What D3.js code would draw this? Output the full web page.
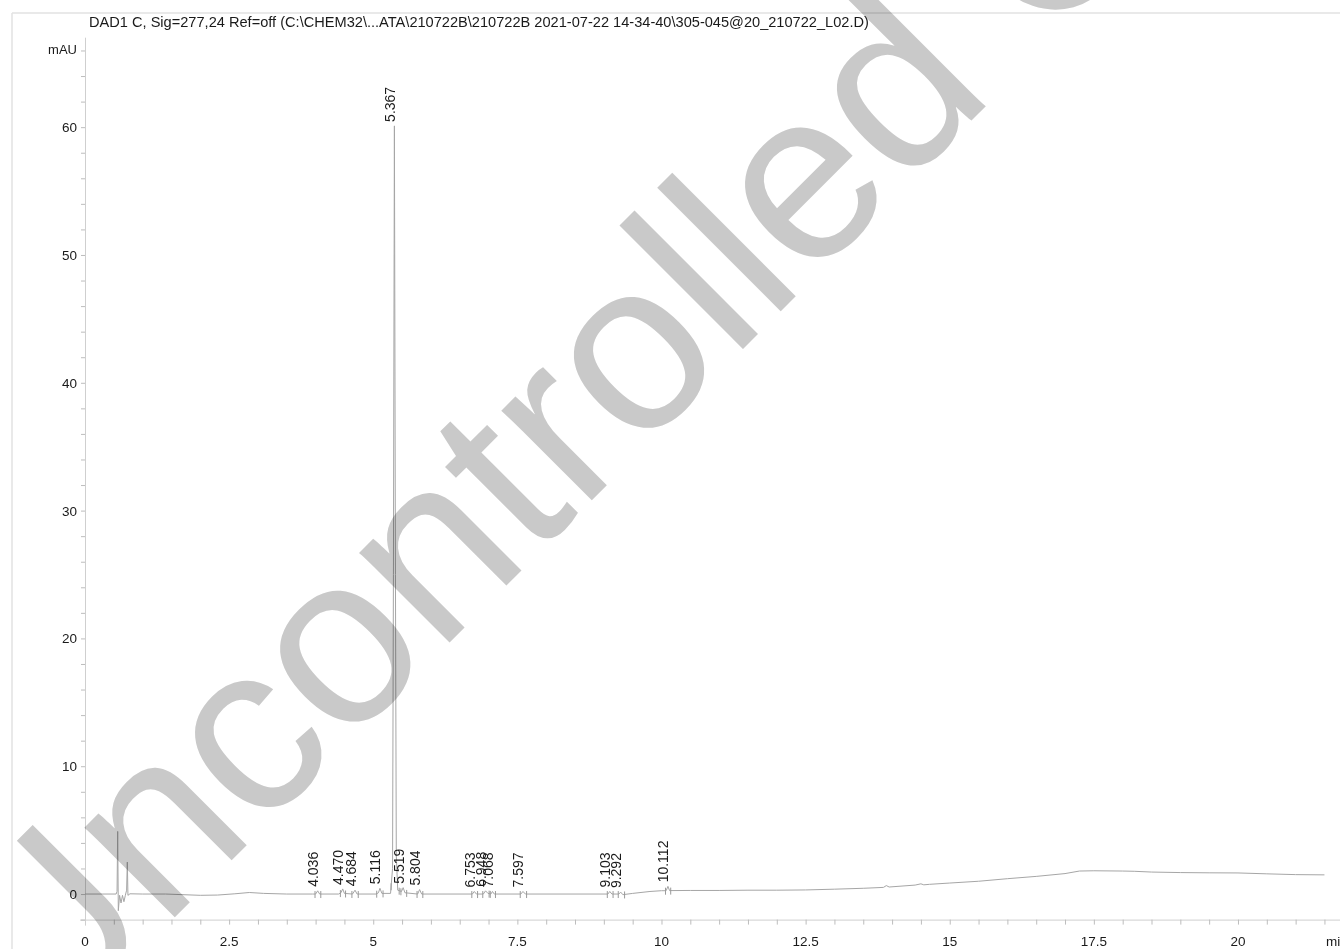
<!DOCTYPE html>
<html>
<head>
<meta charset="utf-8">
<script src="https://cdn.jsdelivr.net/npm/d3@7/dist/d3.min.js"></script>
<style>
  html, body { margin: 0; padding: 0; background: #fff; }
  svg { display: block; }
  text { font-family: "Liberation Sans", Arial, Helvetica, sans-serif; }
</style>
</head>
<body>
<svg id="chart" width="1340" height="949"></svg>
<script>
// Signal header
const titleText = "DAD1 C, Sig=277,24 Ref=off (C:\\CHEM32\\...ATA\\210722B\\210722B 2021-07-22 14-34-40\\305-045@20_210722_L02.D)";
const yUnit = "mAU";
const xUnit = "min";
const watermarkText = "Uncontrolled Copy";

// Axis ticks
const xMajorTicks = [0, 2.5, 5, 7.5, 10, 12.5, 15, 17.5, 20];
const xTickLabels = ["0", "2.5", "5", "7.5", "10", "12.5", "15", "17.5", "20"];
const yMajorTicks = [0, 10, 20, 30, 40, 50, 60];
const yTickLabels = ["0", "10", "20", "30", "40", "50", "60"];

// Chromatogram trace: retention time (min) and absorbance (mAU)
const traceTime = [
  0.00, 0.30, 0.54, 0.556, 0.567, 0.578, 0.600, 0.625, 0.650, 0.675, 0.700, 0.722, 0.734, 0.745, 0.78,
  1.00, 1.40, 1.70, 2.00, 2.30, 2.60, 2.85, 3.10, 3.50, 3.95,
  4.00, 4.036, 4.07, 4.40, 4.44, 4.470, 4.50, 4.64, 4.684, 4.72,
  5.05, 5.09, 5.116, 5.15, 5.30, 5.335, 5.350, 5.367, 5.385, 5.400, 5.425,
  5.49, 5.519, 5.55, 5.77, 5.804, 5.84,
  6.72, 6.753, 6.79, 6.91, 6.948, 6.99, 7.04, 7.068, 7.10,
  7.56, 7.597, 7.64, 9.07, 9.103, 9.14, 9.26, 9.292, 9.33,
  9.50, 9.80, 10.00, 10.08, 10.112, 10.14, 10.50, 11.00, 11.50, 12.00, 12.50,
  13.00, 13.50, 13.85, 13.90, 13.95, 14.40, 14.50, 14.55, 14.65,
  15.00, 15.50, 16.00, 16.50, 17.00, 17.25, 17.50, 18.00, 18.20, 18.50,
  19.00, 19.50, 20.00, 20.50, 21.00, 21.50, 22.50
];
const traceSignal = [
  0.00, 0.00, 0.00, 0.20, 4.90, -1.30, -0.10, -0.70, -0.10, -0.60, -0.10, 0.30, 2.50, -0.10, 0.02,
  0.00, 0.00, -0.05, -0.10, -0.08, 0.02, 0.12, 0.05, 0.00, 0.00,
  0.00, 0.25, 0.00, 0.00, 0.10, 0.40, 0.05, 0.00, 0.30, 0.00,
  0.00, 0.10, 0.45, 0.05, 0.05, 2.00, 25.0, 60.1, 25.0, 3.00, 0.30,
  0.20, 0.50, 0.10, 0.00, 0.35, 0.00,
  0.00, 0.20, 0.00, 0.00, 0.25, 0.05, 0.00, 0.20, 0.00,
  0.00, 0.20, 0.00, 0.00, 0.20, 0.00, 0.00, 0.15, -0.05,
  0.05, 0.20, 0.26, 0.26, 0.60, 0.27, 0.28, 0.28, 0.30, 0.30, 0.32,
  0.38, 0.45, 0.52, 0.66, 0.55, 0.70, 0.80, 0.72, 0.76,
  0.86, 1.00, 1.20, 1.38, 1.60, 1.80, 1.82, 1.80, 1.78, 1.72,
  1.68, 1.66, 1.65, 1.58, 1.52, 1.50, 1.48
];

// Integrated peaks: apex time labels and integration limits (min)
const peakLabels = ["4.036", "4.470", "4.684", "5.116", "5.367", "5.519", "5.804",
                    "6.753", "6.948", "7.068", "7.597", "9.103", "9.292", "10.112"];
const peakStart = [3.99, 4.43, 4.63, 5.06, 5.31, 5.48, 5.76, 6.71, 6.90, 7.03, 7.55, 9.06, 9.25, 10.07];
const peakEnd   = [4.09, 4.52, 4.74, 5.17, 5.45, 5.58, 5.86, 6.81, 7.01, 7.12, 7.66, 9.16, 9.36, 10.16];

const svg = d3.select("#chart");
const W = 1340, H = 949;

const x = d3.scaleLinear().domain([0, 22.5]).range([85, 1382.1]);
const y = d3.scaleLinear().domain([-2, 67]).range([919.6, 37.7]);

const trace = traceTime.map((t, i) => ({ t, v: traceSignal[i] }));
const signalAt = t => {
  const i = d3.bisector(d => d.t).left(trace, t);
  if (i <= 0) return trace[0].v;
  if (i >= trace.length) return trace[trace.length - 1].v;
  const a = trace[i - 1], b = trace[i];
  return a.v + (b.v - a.v) * (t - a.t) / (b.t - a.t);
};

// Page frame
svg.append("line").attr("x1", 12).attr("x2", 12).attr("y1", 13).attr("y2", H)
  .attr("stroke", "#e2e2e2").attr("stroke-width", 1.5);
svg.append("line").attr("x1", 12).attr("x2", W).attr("y1", 13).attr("y2", 13)
  .attr("stroke", "#e2e2e2").attr("stroke-width", 1.5);

// Title
svg.append("text").attr("x", 89).attr("y", 27).attr("font-size", 14.6).attr("fill", "#1a1a1a")
  .text(titleText);

// X axis: minor ticks every 0.5 min, labels every 2.5 min
const xAxisG = svg.append("g").attr("transform", `translate(0,${y(-2)})`);
xAxisG.call(d3.axisBottom(x).tickValues(d3.range(0, 22.51, 0.5)).tickSize(5).tickFormat(""));
xAxisG.selectAll("path.domain").attr("stroke", "#cfcfcf").attr("d", `M80,0.5H${x(22.5)}`);
xAxisG.selectAll(".tick line").attr("stroke", "#bdbdbd");
svg.append("g").selectAll("text").data(xMajorTicks).join("text")
  .attr("x", d => x(d)).attr("y", 946).attr("text-anchor", "middle")
  .attr("font-size", 13.5).attr("fill", "#1a1a1a")
  .text((d, i) => xTickLabels[i]);
svg.append("text").attr("x", 1326).attr("y", 946).attr("font-size", 13.5).attr("fill", "#1a1a1a").text(xUnit);

// Y axis: minor ticks every 2 mAU, labels every 10 mAU
const yAxisG = svg.append("g").attr("transform", `translate(${x(0)},0)`);
yAxisG.call(d3.axisLeft(y).tickValues(d3.range(-2, 66.1, 2)).tickSize(4).tickFormat(""));
yAxisG.selectAll("path.domain").attr("stroke", "#cfcfcf").attr("d", `M0.5,${y(-2) + 6}V${y(67)}`);
yAxisG.selectAll(".tick line").attr("stroke", "#bdbdbd");
svg.append("g").selectAll("text").data(yMajorTicks).join("text")
  .attr("x", 77).attr("y", d => y(d) + 5).attr("text-anchor", "end")
  .attr("font-size", 13.5).attr("fill", "#1a1a1a")
  .text((d, i) => yTickLabels[i]);
svg.append("text").attr("x", 77).attr("y", y(66) + 4).attr("text-anchor", "end")
  .attr("font-size", 13).attr("fill", "#1a1a1a").text(yUnit);

// Signal trace
const line = d3.line().x(d => x(d.t)).y(d => y(d.v));
svg.append("path").datum(trace.filter(d => x(d.t) <= W + 5))
  .attr("d", line).attr("fill", "none").attr("stroke", "#a6a6a6").attr("stroke-width", 1);

// Integration limit marks
const limits = peakStart.concat(peakEnd);
svg.append("g").selectAll("line").data(limits).join("line")
  .attr("x1", d => x(d)).attr("x2", d => x(d))
  .attr("y1", d => y(signalAt(d)) - 3).attr("y2", d => y(signalAt(d)) + 4)
  .attr("stroke", "#9a9a9a").attr("stroke-width", 1);

// Retention time labels above each apex
svg.append("g").selectAll("text").data(peakLabels).join("text")
  .attr("transform", d => `translate(${x(+d) + 0.5},${y(signalAt(+d)) - 4}) rotate(-90)`)
  .attr("font-size", 14).attr("fill", "#1a1a1a")
  .text(d => d);

// Document control stamp across the page, multiplied over the printout
svg.append("text")
  .attr("transform", "translate(40,1052) rotate(-45)")
  .attr("font-size", 241).attr("fill", "#c9c9c9")
  .style("mix-blend-mode", "multiply")
  .text(watermarkText);
</script>
</body>
</html>
